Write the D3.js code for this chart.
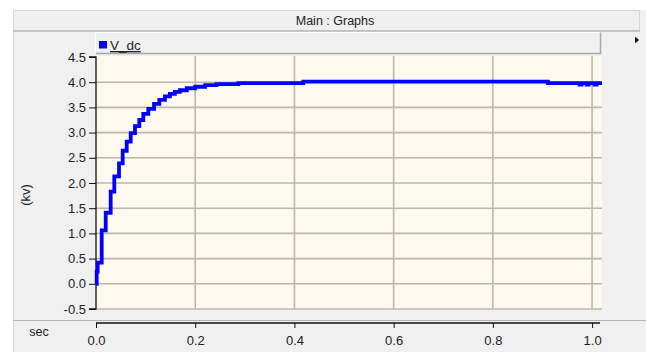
<!DOCTYPE html>
<html>
<head>
<meta charset="utf-8">
<script src="https://cdn.jsdelivr.net/npm/d3@7"></script>
<style>
  html, body { margin: 0; padding: 0; background: #ffffff; }
  svg { display: block; }
  text { font-family: "Liberation Sans", Arial, sans-serif; }
</style>
</head>
<body>
<svg id="chart" width="646" height="352"></svg>
<script>
// ---- data ----
const chartTitle = "Main : Graphs";
const seriesName = "V_dc";
const xUnit = "sec";
const yUnit = "(kv)";
// staircase sample times (s) and V_dc values (kV)
const timeSec = [0, 0.0014, 0.0034, 0.0115, 0.0196, 0.0296, 0.0369, 0.0464, 0.0538, 0.0619,
                 0.070, 0.0786, 0.0873, 0.0954, 0.1054, 0.117, 0.1276, 0.139, 0.149, 0.159,
                 0.169, 0.183, 0.200, 0.220, 0.243, 0.287, 0.418, 0.911, 0.975, 0.979,
                 0.989, 0.993, 1.005, 1.009, 1.02];
const vdc     = [0.0, 0.24, 0.42, 1.06, 1.41, 1.83, 2.13, 2.39, 2.64, 2.82,
                 2.99, 3.13, 3.25, 3.37, 3.47, 3.57, 3.65, 3.72, 3.77, 3.81,
                 3.84, 3.88, 3.91, 3.94, 3.96, 3.98, 4.01, 3.98, 3.95, 3.98,
                 3.95, 3.98, 3.95, 3.98, 3.98];
const xTicks = [0.0, 0.2, 0.4, 0.6, 0.8, 1.0];
const yTicks = [-0.5, 0.0, 0.5, 1.0, 1.5, 2.0, 2.5, 3.0, 3.5, 4.0, 4.5];
const xDomain = [0, 1.02];
const yDomain = [-0.5, 4.5];

// ---- layout ----
const svg = d3.select("#chart");
const plot = { left: 96, right: 602, top: 57, bottom: 309 };
const x = d3.scaleLinear().domain(xDomain).range([plot.left, plot.right]);
const y = d3.scaleLinear().domain(yDomain).range([plot.bottom, plot.top]);
const fmt = d => d3.format(".1f")(d).replace("\u2212", "-");

// outer panel background
svg.append("rect").attr("x", 13).attr("y", 10).attr("width", 633).attr("height", 342)
  .attr("fill", "#f0f0f0");
svg.append("line").attr("x1", 13.5).attr("x2", 13.5).attr("y1", 10).attr("y2", 352)
  .attr("stroke", "#d4d4d4");

// title bar
svg.append("rect").attr("x", 13.5).attr("y", 10.5).attr("width", 626).attr("height", 20)
  .attr("fill", "#efefef").attr("stroke", "#d6d6d6");
svg.append("line").attr("x1", 13).attr("x2", 640).attr("y1", 31).attr("y2", 31)
  .attr("stroke", "#b8b8b8").attr("stroke-width", 1.5);
svg.append("text").attr("x", 335).attr("y", 24.5).attr("text-anchor", "middle")
  .attr("font-size", 12.5).attr("fill", "#222").text(chartTitle);

// right arrow
svg.append("path").attr("d", "M635,36.5 L639,40 L635,43.5 Z").attr("fill", "#111");

// legend box
svg.append("rect").attr("x", 95.5).attr("y", 32.5).attr("width", 505).attr("height", 21)
  .attr("fill", "#f0f0f0").attr("stroke", "none");
svg.append("path").attr("d", "M95.5,53.5 L600.5,53.5 L600.5,32")
  .attr("fill", "none").attr("stroke", "#a8a8a8").attr("stroke-width", 1.5);
svg.append("path").attr("d", "M95.5,53.5 L95.5,32.5 L600.5,32.5")
  .attr("fill", "none").attr("stroke", "#ffffff");
svg.append("rect").attr("x", 99).attr("y", 41).attr("width", 8).attr("height", 7.5)
  .attr("fill", "#0000ff");
svg.append("text").attr("x", 110).attr("y", 50).attr("font-size", 13.5)
  .attr("fill", "#222").attr("text-decoration", "underline").text(seriesName);

// plot background
svg.append("rect").attr("x", plot.left).attr("y", plot.top - 1)
  .attr("width", plot.right - plot.left).attr("height", plot.bottom - plot.top + 2)
  .attr("fill", "#fdf9ee");

// grid
const grid = svg.append("g").attr("stroke", "#bdb6aa").attr("stroke-width", 1.6);
grid.selectAll("line.h").data(yTicks.filter(d => d < yDomain[1])).enter().append("line")
  .attr("x1", plot.left).attr("x2", plot.right)
  .attr("y1", d => y(d)).attr("y2", d => y(d));
grid.selectAll("line.v").data(xTicks.filter(d => d > 0)).enter().append("line")
  .attr("y1", plot.top - 1).attr("y2", plot.bottom)
  .attr("x1", d => x(d)).attr("x2", d => x(d));

// y axis
const yAxis = d3.axisLeft(y).tickValues(yTicks).tickFormat(fmt).tickSize(7).tickPadding(3);
const gy = svg.append("g").attr("transform", `translate(${plot.left},0)`).call(yAxis);
gy.select(".domain").attr("stroke", "#111").attr("stroke-width", 1.3)
  .attr("d", `M-7,${y(yDomain[1])}H0V${y(yDomain[0])}H-7`);
gy.selectAll(".tick line").attr("stroke", "#111");
gy.selectAll(".tick text").attr("font-size", 13).attr("fill", "#222")
  .attr("font-family", "Liberation Sans, Arial, sans-serif");

// separator between plot and x-axis panel
svg.append("line").attr("x1", 13).attr("x2", 646).attr("y1", 320.5).attr("y2", 320.5)
  .attr("stroke", "#b4b4b4");

// x axis
const xAxis = d3.axisBottom(x).tickValues(xTicks).tickFormat(fmt).tickSize(5).tickPadding(8);
const gx = svg.append("g").attr("transform", "translate(0,323)").call(xAxis);
gx.select(".domain").attr("stroke", "#111").attr("stroke-width", 1.3)
  .attr("d", `M${plot.left},0H${plot.right - 2}`);
gx.selectAll(".tick line").attr("stroke", "#111");
gx.selectAll(".tick text").attr("font-size", 13).attr("fill", "#222")
  .attr("font-family", "Liberation Sans, Arial, sans-serif");

// units
svg.append("text").attr("x", 39).attr("y", 336).attr("text-anchor", "middle")
  .attr("font-size", 12.5).attr("fill", "#222").text(xUnit);
svg.append("text").attr("transform", "translate(30,195) rotate(-90)")
  .attr("text-anchor", "middle").attr("font-size", 13).attr("fill", "#222").text(yUnit);

// series
const pts = timeSec.map((t, i) => [t, vdc[i]]);
const line = d3.line().x(d => x(d[0])).y(d => y(d[1])).curve(d3.curveStepAfter);
svg.append("path").datum(pts).attr("d", line)
  .attr("fill", "none").attr("stroke", "#0000ff").attr("stroke-width", 3.8)
  .attr("stroke-linejoin", "miter");
</script>
</body>
</html>
